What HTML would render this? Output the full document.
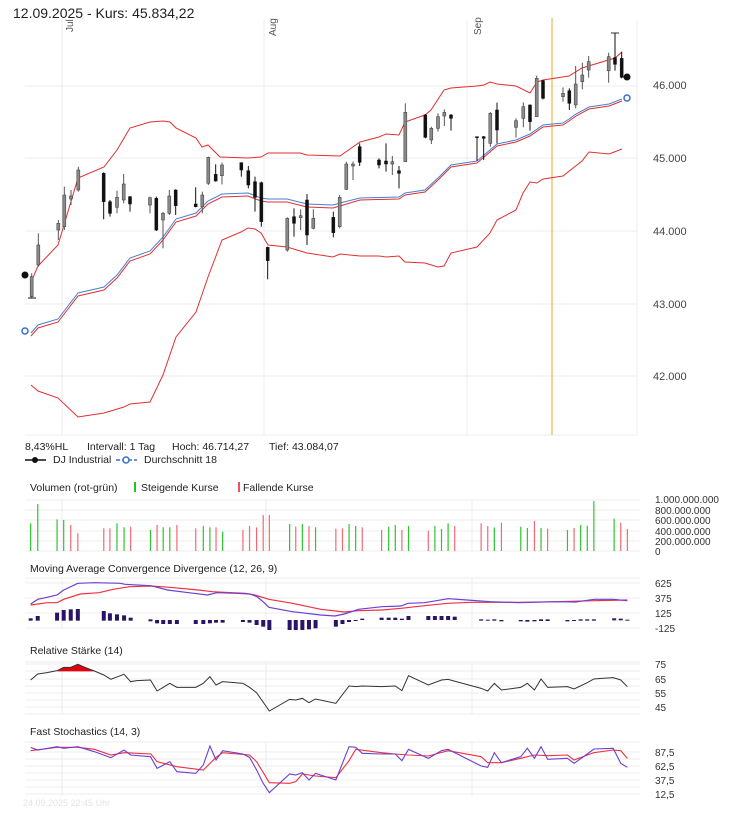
<!DOCTYPE html>
<html><head><meta charset="utf-8">
<style>
body{margin:0;background:#fff;width:737px;height:826px;overflow:hidden;font-family:"Liberation Sans",sans-serif;}
svg{position:absolute;left:0;top:0}
text{font-family:"Liberation Sans",sans-serif;}
</style></head><body>
<svg id="s" width="737" height="826" viewBox="0 0 737 826">
<g id="grid" stroke="#ececec" stroke-width="1" fill="none"></g>
<g id="main"></g>
<g id="pan"></g>
<text x="13" y="18" font-size="14" fill="#222">12.09.2025  -  Kurs: 45.834,22</text>
<text transform="translate(73,32) rotate(-90)" font-size="10" fill="#555">Jul</text>
<text transform="translate(276,36) rotate(-90)" font-size="10" fill="#555">Aug</text>
<text transform="translate(481,35) rotate(-90)" font-size="10" fill="#555">Sep</text>
<g font-size="11" fill="#444">
<text x="653" y="89">46.000</text><text x="653" y="162">45.000</text><text x="653" y="235">44.000</text><text x="653" y="308">43.000</text><text x="653" y="380">42.000</text>
</g>
<g font-size="10.5" fill="#222">
<text x="25" y="450">8,43%HL</text><text x="87" y="450">Intervall: 1 Tag</text><text x="172" y="450">Hoch: 46.714,27</text><text x="269" y="450">Tief: 43.084,07</text>
<text x="53" y="463">DJ Industrial</text><text x="144" y="463">Durchschnitt 18</text>
<text x="30" y="491">Volumen (rot-grün)</text><text x="141" y="491">Steigende Kurse</text><text x="243" y="491">Fallende Kurse</text>
<text x="30" y="572">Moving Average Convergence Divergence (12, 26, 9)</text>
<text x="30" y="654">Relative Stärke (14)</text>
<text x="30" y="735">Fast Stochastics (14, 3)</text>
</g>
<g stroke-width="1.5"><line x1="25" y1="460" x2="46" y2="460" stroke="#111"/><circle cx="35" cy="460" r="3" fill="#111"/>
<line x1="116" y1="460" x2="137" y2="460" stroke="#3a6fc8" stroke-dasharray="4,2"/><circle cx="126" cy="460" r="3" fill="#fff" stroke="#3a6fc8"/></g>
<line x1="135" y1="482" x2="135" y2="492" stroke="#22c322" stroke-width="2"/>
<line x1="239" y1="482" x2="239" y2="492" stroke="#f05060" stroke-width="2"/>
<g font-size="10" fill="#333">
<text x="655" y="503">1.000.000.000</text><text x="655" y="514">800.000.000</text><text x="655" y="524">600.000.000</text><text x="655" y="535">400.000.000</text><text x="655" y="545">200.000.000</text><text x="655" y="555">0</text>
<text x="655" y="587">625</text><text x="655" y="602">375</text><text x="655" y="617">125</text><text x="655" y="632">-125</text>
<text x="655" y="668">75</text><text x="655" y="683">65</text><text x="655" y="697">55</text><text x="655" y="711">45</text>
<text x="655" y="756">87,5</text><text x="655" y="770">62,5</text><text x="655" y="784">37,5</text><text x="655" y="798">12,5</text>
</g>
<text x="23" y="806" font-size="9" fill="#e4e4e4">24.09.2025 22:45 Uhr</text>
</svg>
<script>
var NS="http://www.w3.org/2000/svg";
function el(p,t,a){var e=document.createElementNS(NS,t);for(var k in a)e.setAttribute(k,a[k]);p.appendChild(e);return e;}
var G=document.getElementById('grid'),M=document.getElementById('main'),P=document.getElementById('pan');
// main grid
[86,158,231,304,376,435].forEach(function(y){el(G,'line',{x1:25,x2:637,y1:y,y2:y});});
[62,264,467].forEach(function(x){el(G,'line',{x1:x,x2:x,y1:20,y2:435});});
el(G,'line',{x1:637,x2:637,y1:20,y2:435});
// panel grids
function hg(ys,x){ys.forEach(function(y){el(G,'line',{x1:25,x2:640,y1:y,y2:y});});}
hg([500,510,520,531,541,551]);hg([578,583,598,613,628]);hg([662,664,671,679,686,693,700,707,714]);hg([742,752,759,766,773,780,787,794]);
[[500,551],[578,628],[662,714],[742,796]].forEach(function(r){[62,266,472].forEach(function(x){el(G,'line',{x1:x,x2:x,y1:r[0],y2:r[1]});});});
el(M,'line',{x1:552,x2:552,y1:18,y2:435,stroke:'#f5a623','stroke-width':1});
function pl(pts,col,w,g){el(g||M,'polyline',{points:pts.map(function(p){return p.join(',')}).join(' '),fill:'none',stroke:col,'stroke-width':w||1});}
var up=[[31,282],[38,266],[58,245],[78,178],[104,167],[117,150],[130,128],[150,122],[163,121],[170,122],[176,128],[196,138],[202,147],[208,145],[220,157],[248,158],[261,157],[268,153],[300,153],[307,155],[340,156],[360,142],[379,137],[386,134],[399,135],[405,122],[425,115],[431,110],[444,90],[451,88],[477,86],[484,85],[490,82],[497,84],[516,86],[530,93],[537,82],[543,80],[569,76],[582,68],[615,58],[622,52]];
var ma=[[31,333],[38,325],[58,319],[78,293],[104,287],[117,275],[130,258],[150,251],[163,237],[176,219],[196,213],[208,201],[222,194],[248,193],[261,198],[268,199],[287,199],[307,204],[333,205],[340,203],[360,198],[399,197],[405,193],[425,190],[438,178],[451,165],[477,161],[497,144],[516,140],[530,134],[543,125],[563,123],[569,119],[576,114],[589,107],[609,104],[622,99]];
var lo=[[31,385],[38,391],[58,398],[78,417],[104,413],[124,407],[130,404],[150,402],[163,375],[176,337],[196,312],[208,277],[222,240],[241,232],[248,228],[255,229],[261,233],[268,245],[287,247],[307,253],[333,257],[340,254],[360,256],[379,256],[386,257],[399,256],[405,262],[425,263],[438,267],[444,266],[451,253],[477,247],[490,233],[497,220],[516,210],[523,193],[530,182],[537,183],[543,179],[563,176],[582,161],[589,152],[609,154],[622,149]];
pl(up,'#e03030');pl(lo,'#e03030');
pl(ma.map(function(p,i){return [p[0],p[1]+(i<20?3:2)]}),'#e03030');
pl(ma,'#4a7fd4');
// candles [x,wt,wb,bt,bb,up] zoom coords
var c=[[95,820,895,830,890,1],[115,700,800,735,795,1],[175,660,720,670,690,1],[193,560,690,585,680,1],[213,570,615,588,597,1],[235,500,575,510,570,1],[311,517,658,520,605,0],[330,600,650,605,640,0],[351,572,640,592,622,1],[371,522,610,552,600,1],[390,588,635,590,612,0],[450,590,640,593,615,1],[469,590,693,595,690,0],[489,636,745,640,660,1],[508,570,645,588,640,1],[527,568,645,570,617,0],[587,562,622,612,620,0],[607,575,640,585,620,1],[625,470,555,472,550,1],[647,493,545,523,543,0],[666,488,553,495,527,1],[724,487,530,488,510,0],[745,498,565,512,555,0],[765,530,635,545,592,0],[784,545,680,548,665,0],[803,740,838,742,782,0],[862,652,755,655,750,1],[882,625,710,650,670,0],[902,628,690,647,653,1],[921,582,735,600,705,0],[940,628,688,655,685,1],[1000,635,712,652,698,0],[1019,585,685,592,680,1],[1039,485,570,492,568,1],[1059,485,540,492,498,1],[1079,430,498,440,487,0],
[1137,475,505,480,495,0],[1158,430,515,483,492,0],[1177,468,525,485,492,1],[1197,498,565,512,520,0],[1216,310,485,337,485,1],[1276,342,415,345,412,0],[1294,380,432,385,420,1],[1314,340,395,350,385,1],[1333,328,378,337,348,1],[1353,342,392,345,355,0],[1431,410,482,410,413,0],[1451,408,480,410,415,0],[1471,336,440,340,430,1],[1491,308,430,330,390,0],[1548,355,413,362,382,1],[1570,307,382,320,355,1],[1590,313,392,315,365,0],[1610,227,350,235,350,1],[1629,240,298,242,295,0],[1689,262,305,280,290,1],[1708,265,330,272,310,0],[1727,198,325,252,315,1],[1747,188,268,225,245,1],[1766,168,233,185,210,1],[1826,158,248,170,212,1],[1845,98,212,173,193,0],[1865,155,235,175,232,0]];
c.forEach(function(d){var x=d[0]/3;el(M,'line',{x1:x,x2:x,y1:d[1]/3,y2:d[2]/3,stroke:d[5]?'#555':'#111','stroke-width':1});
el(M,'rect',{x:x-1.5,y:d[3]/3,width:3,height:Math.max(1,(d[4]-d[3])/3),fill:d[5]?'#8a8a8a':'#111',stroke:d[5]?'#333':'#111','stroke-width':0.5});});
el(M,'line',{x1:28,x2:36,y1:298,y2:298,stroke:'#111'});el(M,'line',{x1:611,x2:619,y1:33,y2:33,stroke:'#333'});
el(M,'circle',{cx:25,cy:275,r:3.5,fill:'#111'});el(M,'circle',{cx:627,cy:77,r:3.5,fill:'#111'});
el(M,'circle',{cx:25,cy:331,r:3,fill:'#fff',stroke:'#3a6fc8','stroke-width':1.5});el(M,'circle',{cx:627,cy:98,r:3,fill:'#fff',stroke:'#3a6fc8','stroke-width':1.5});
// panels: zoom coords x/2.12, y/3+430 (rsi/stoch y/3+630)
function tx(p,o){return [p[0]/2.12,p[1]/3+o];}
var vol=[[65,'g',280],[80,'g',222],[121,'g',268],[135,'g',270],[150,'r',285],[165,'r',310],[220,'r',295],[233,'r',295],[248,'g',280],[263,'g',292],[277,'r',290],[319,'g',300],[333,'r',285],[346,'g',292],[360,'g',292],[375,'r',285],[415,'r',295],[431,'g',288],[445,'g',292],[458,'r',292],[472,'g',305],[515,'r',300],[529,'r',288],[544,'r',292],[558,'r',255],[571,'r',255],[614,'g',282],[627,'r',290],[641,'g',282],[655,'r',288],[669,'g',292],[712,'r',296],[726,'r',295],[740,'g',282],[754,'g',288],[768,'r',292],[809,'r',300],[824,'g',290],[838,'g',285],[852,'r',300],[866,'g',288],[908,'r',302],[922,'g',288],[936,'g',297],[950,'g',280],[964,'r',288],[1020,'r',280],[1034,'r',288],[1048,'g',292],[1063,'r',278],[1104,'g',290],[1118,'g',294],[1133,'r',273],[1147,'g',294],[1161,'r',296],[1203,'g',300],[1217,'r',294],[1231,'g',285],[1245,'g',287],[1259,'g',213],[1302,'g',266],[1316,'r',278],[1330,'r',297]];
vol.forEach(function(v){var x=v[0]/2.12;el(P,'line',{x1:x,x2:x,y1:v[2]/3+430,y2:551,stroke:v[1]=='g'?'#2ec52e':'#f06a78','stroke-width':1.2});});
var hist=[[65,565,572],[80,558,572],[121,548,572],[135,540,572],[150,538,572],[165,537,572],[220,543,572],[233,550,572],[248,553,572],[263,556,572],[277,563,572],[319,568,574],[333,570,580],[346,570,582],[360,570,582],[375,570,582],[415,570,582],[431,570,582],[445,570,580],[458,570,578],[472,570,578],[515,570,576],[529,570,578],[544,570,585],[558,570,590],[571,570,600],[614,570,600],[627,570,600],[641,570,600],[655,570,598],[669,570,595],[712,570,590],[726,570,582],[740,570,576],[754,570,573],[768,566,570],[809,563,570],[824,563,570],[838,563,570],[852,566,570],[866,558,570],[908,558,570],[922,558,570],[936,558,570],[950,558,570],[964,560,570],[1020,568,572],[1034,569,572],[1048,568,572],[1063,570,574],[1104,570,574],[1118,570,575],[1133,570,574],[1147,568,573],[1161,568,573],[1203,570,574],[1217,570,573],[1231,568,572],[1245,568,572],[1259,568,572],[1302,565,571],[1316,566,571],[1330,569,572]];
hist.forEach(function(h){var x=h[0]/2.12;el(P,'rect',{x:x-2,y:h[1]/3+430,width:4,height:Math.max(1,(h[2]-h[1])/3),fill:'#2a1466'});});
var mr=[[65,525],[100,518],[121,518],[135,508],[170,492],[210,488],[240,478],[275,470],[320,468],[360,472],[420,480],[450,485],[520,490],[540,495],[570,508],[620,520],[680,538],[730,546],[760,542],[810,540],[850,535],[900,527],[950,520],[1000,517],[1100,517],[1180,515],[1260,512],[1330,510]];
var mp=[[65,522],[80,508],[100,502],[121,495],[135,480],[165,460],[200,458],[255,460],[265,463],[320,467],[355,480],[400,488],[440,495],[460,488],[500,490],[530,492],[545,500],[560,518],[570,532],[620,545],[680,555],[710,558],[730,552],[760,538],[810,530],[850,528],[865,520],[900,518],[950,506],[990,510],[1040,515],[1100,518],[1180,515],[1220,516],[1260,508],[1300,508],[1330,512]];
pl(mr.map(function(p){return tx(p,430)}),'#f03040',1.2,P);pl(mp.map(function(p){return tx(p,430)}),'#6a40d0',1.2,P);
var rsi=[[65,150],[80,132],[100,128],[121,122],[135,112],[150,112],[165,103],[180,112],[200,123],[220,135],[235,148],[263,133],[277,155],[290,152],[319,150],[333,183],[346,172],[360,160],[375,172],[415,172],[431,160],[445,140],[458,165],[472,155],[515,160],[529,172],[544,188],[571,243],[614,208],[627,210],[641,205],[655,218],[669,207],[712,220],[740,168],[754,170],[768,168],[809,170],[838,168],[852,182],[866,137],[908,165],[936,150],[950,148],[1020,175],[1034,183],[1048,160],[1063,180],[1104,172],[1118,160],[1133,180],[1147,147],[1161,172],[1203,170],[1217,177],[1245,158],[1259,147],[1275,145],[1300,143],[1316,150],[1330,170]];
el(P,'polygon',{points:[[121,124],[135,112],[150,112],[165,103],[180,112],[200,124]].map(function(p){return tx(p,630).join(',')}).join(' '),fill:'#e00010'});
pl(rsi.map(function(p){return tx(p,630)}),'#333',1,P);
var sr=[[65,362],[121,352],[165,352],[200,358],[235,375],[263,368],[320,372],[333,395],[375,410],[431,420],[458,382],[472,368],[529,375],[544,395],[571,458],[614,460],[627,455],[641,432],[669,438],[712,443],[740,392],[754,358],[809,368],[838,372],[866,375],[908,378],[950,362],[1020,380],[1034,398],[1063,398],[1104,385],[1133,375],[1161,377],[1203,375],[1217,390],[1259,368],[1300,360],[1316,362],[1330,385]];
var sp=[[65,352],[80,360],[121,350],[135,355],[165,350],[200,365],[235,383],[263,360],[277,375],[319,380],[333,415],[360,395],[375,425],[415,430],[431,405],[445,348],[458,390],[472,362],[515,372],[529,382],[544,420],[558,460],[571,488],[614,432],[627,435],[641,428],[655,450],[669,430],[712,450],[740,350],[754,352],[768,370],[809,372],[838,372],[852,392],[866,358],[908,385],[936,362],[950,358],[1020,408],[1034,412],[1048,368],[1063,398],[1104,380],[1118,355],[1133,385],[1147,350],[1161,388],[1203,385],[1217,400],[1245,372],[1259,357],[1300,355],[1316,400],[1330,412]];
pl(sr.map(function(p){return tx(p,630)}),'#f03040',1.1,P);pl(sp.map(function(p){return tx(p,630)}),'#6a40d0',1.1,P);
</script>
</body></html>
